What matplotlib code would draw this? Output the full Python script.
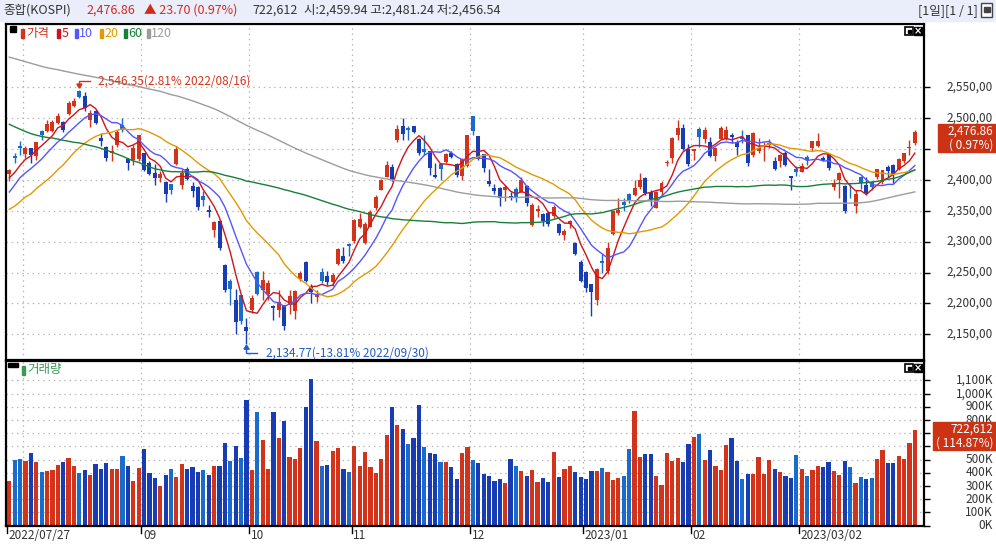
import numpy as np
import matplotlib
matplotlib.use("Agg")
import matplotlib.pyplot as plt
from matplotlib.patches import Rectangle, Polygon
import matplotlib.transforms as mtransforms

plt.rcParams['font.family'] = ['Noto Sans CJK KR', 'DejaVu Sans']

# ---------------- data ----------------
trade_days = {
    "2022/07": "27 28 29",
    "2022/08": "01 02 03 04 05 08 09 10 11 12 16 17 18 19 22 23 24 25 26 29 30 31",
    "2022/09": "01 02 05 06 07 08 13 14 15 16 19 20 21 22 23 26 27 28 29 30",
    "2022/10": "04 05 06 07 11 12 13 14 17 18 19 20 21 24 25 26 27 28 31",
    "2022/11": "01 02 03 04 07 08 09 10 11 14 15 16 17 18 21 22 23 24 25 28 29 30",
    "2022/12": "01 02 05 06 07 08 09 12 13 14 15 16 19 20 21 22 23 26 27 28 29",
    "2023/01": "02 03 04 05 06 09 10 11 12 13 16 17 18 19 20 25 26 27 30 31",
    "2023/02": "01 02 03 06 07 08 09 10 13 14 15 16 17 20 21 22 23 24 27 28",
    "2023/03": "02 03 06 07 08 09 10 13 14 15 16 17 20 21 22 23 24 27 28 29 30 31",
}
dates = [f"{m}/{d}" for m, ds in trade_days.items() for d in ds.split()]

opens = [
    2409, 2438, 2455, 2442, 2451, 2438, 2480, 2479, 2479, 2492,
    2494, 2507, 2519, 2544, 2536, 2497, 2512, 2468, 2454, 2444,
    2457, 2489, 2434, 2432, 2434, 2443, 2427, 2411, 2403, 2397,
    2393, 2426, 2391, 2417, 2390, 2389, 2374, 2351, 2319, 2333,
    2262, 2236, 2206, 2213, 2162, 2189, 2251, 2221, 2216, 2195,
    2190, 2197, 2198, 2188, 2240, 2267, 2227, 2210, 2251, 2244,
    2235, 2263, 2277, 2296, 2301, 2324, 2297, 2324, 2354, 2384,
    2405, 2421, 2465, 2487, 2484, 2487, 2467, 2450, 2446, 2408,
    2426, 2429, 2443, 2426, 2406, 2423, 2503, 2471, 2442, 2399,
    2387, 2387, 2383, 2374, 2385, 2381, 2390, 2327, 2349, 2345,
    2347, 2341, 2328, 2311, 2329, 2298, 2267, 2251, 2231, 2206,
    2268, 2253, 2313, 2347, 2365, 2377, 2376, 2388, 2403, 2381,
    2354, 2380, 2427, 2436, 2473, 2484, 2450, 2446, 2482, 2466,
    2462, 2439, 2467, 2467, 2473, 2462, 2470, 2473, 2440, 2446,
    2453, 2457, 2431, 2430, 2443, 2406, 2418, 2413, 2437, 2451,
    2455, 2436, 2442, 2389, 2400, 2390, 2381, 2357, 2405, 2392,
    2397, 2404, 2396, 2421, 2424, 2417, 2430, 2452, 2459.94,
]
highs = [
    2418, 2443, 2463, 2455, 2452, 2462, 2481, 2497, 2497, 2508,
    2495, 2527, 2532, 2546.35, 2542, 2514, 2513, 2476, 2455, 2457,
    2481, 2500, 2435, 2457, 2473, 2443, 2430, 2426, 2415, 2398,
    2393, 2455, 2418, 2421, 2396, 2390, 2382, 2360, 2334, 2335,
    2263, 2240, 2224, 2213, 2176, 2213, 2253, 2252, 2238, 2197,
    2221, 2198, 2221, 2221, 2252, 2268, 2232, 2222, 2257, 2252,
    2250, 2290, 2292, 2297, 2337, 2347, 2332, 2351, 2376, 2401,
    2431, 2426, 2489, 2500, 2488, 2488, 2468, 2473, 2447, 2427,
    2428, 2444, 2446, 2427, 2435, 2473, 2503, 2471, 2442, 2417,
    2394, 2389, 2391, 2381, 2388, 2404, 2392, 2362, 2359, 2347,
    2350, 2360, 2330, 2321, 2335, 2300, 2270, 2253, 2231, 2257,
    2280, 2300, 2351, 2370, 2371, 2378, 2400, 2411, 2405, 2384,
    2382, 2398, 2432, 2470, 2497, 2491, 2458, 2450, 2485, 2485,
    2469, 2453, 2487, 2487, 2476, 2465, 2481, 2473, 2477, 2468,
    2461, 2466, 2437, 2442, 2446, 2407, 2423, 2428, 2440, 2463,
    2476, 2439, 2444, 2401, 2412, 2392, 2393, 2383, 2406, 2405,
    2399, 2417, 2416, 2424, 2425, 2436, 2444, 2464, 2481.24,
]
lows = [
    2398, 2427, 2440, 2435, 2428, 2432, 2465, 2478, 2478, 2490,
    2478, 2505, 2518, 2532, 2511, 2486, 2491, 2455, 2431, 2430,
    2454, 2478, 2416, 2424, 2430, 2414, 2408, 2392, 2397, 2365,
    2377, 2424, 2386, 2400, 2372, 2352, 2357, 2340, 2308, 2287,
    2219, 2197, 2151, 2167, 2134.77, 2184, 2213, 2205, 2205, 2173,
    2178, 2157, 2183, 2175, 2236, 2234, 2200, 2203, 2233, 2230,
    2228, 2262, 2266, 2276, 2298, 2322, 2296, 2323, 2352, 2383,
    2404, 2399, 2462, 2465, 2465, 2476, 2440, 2440, 2408, 2403,
    2400, 2427, 2436, 2405, 2400, 2421, 2473, 2433, 2412, 2390,
    2377, 2357, 2366, 2367, 2365, 2380, 2358, 2325, 2340, 2325,
    2325, 2338, 2311, 2302, 2322, 2278, 2234, 2219, 2180, 2198,
    2250, 2248, 2311, 2343, 2350, 2363, 2374, 2386, 2376, 2357,
    2354, 2374, 2423, 2427, 2464, 2448, 2423, 2432, 2453, 2459,
    2437, 2431, 2466, 2465, 2459, 2441, 2459, 2422, 2437, 2444,
    2430, 2451, 2416, 2421, 2422, 2383, 2407, 2412, 2424, 2446,
    2454, 2430, 2416, 2384, 2370, 2347, 2370, 2346, 2386, 2376,
    2384, 2401, 2393, 2405, 2395, 2416, 2428, 2441, 2456.54,
]
closes = [
    2415.53, 2435.27, 2451.50, 2452.25, 2439.62, 2461.45, 2473.11, 2490.80, 2493.10, 2503.46,
    2480.88, 2523.78, 2527.94, 2533.52, 2516.47, 2508.05, 2492.69, 2462.50, 2435.34, 2447.45,
    2477.26, 2481.03, 2426.89, 2450.93, 2472.05, 2415.61, 2409.41, 2403.68, 2410.02, 2376.46,
    2384.28, 2449.54, 2411.42, 2401.83, 2382.78, 2355.66, 2367.85, 2347.21, 2332.31, 2290.00,
    2220.94, 2223.86, 2169.29, 2170.93, 2155.49, 2209.38, 2215.22, 2237.86, 2232.84, 2192.07,
    2202.47, 2162.87, 2212.55, 2219.71, 2249.95, 2237.00, 2218.09, 2213.12, 2236.16, 2235.07,
    2245.23, 2288.78, 2268.40, 2293.61, 2335.22, 2336.57, 2329.17, 2348.80, 2371.79, 2399.04,
    2424.41, 2402.26, 2483.16, 2474.65, 2480.33, 2477.45, 2442.90, 2444.48, 2419.50, 2405.27,
    2418.01, 2441.33, 2437.86, 2408.27, 2433.39, 2472.53, 2479.84, 2434.33, 2419.32, 2393.16,
    2382.81, 2371.08, 2389.04, 2371.87, 2372.40, 2399.25, 2361.82, 2360.03, 2352.17, 2333.33,
    2328.76, 2356.73, 2313.69, 2317.14, 2332.79, 2280.45, 2236.40, 2225.67, 2218.68, 2255.98,
    2264.65, 2289.97, 2350.19, 2351.31, 2359.88, 2365.10, 2386.09, 2399.86, 2379.39, 2368.32,
    2380.34, 2395.26, 2428.57, 2468.65, 2484.02, 2450.47, 2425.08, 2449.80, 2468.88, 2480.40,
    2438.19, 2451.71, 2483.64, 2481.52, 2469.07, 2452.70, 2465.64, 2427.90, 2475.48, 2451.21,
    2455.12, 2458.96, 2417.68, 2439.53, 2423.61, 2402.64, 2412.85, 2421.94, 2432.07, 2462.60,
    2463.35, 2431.91, 2419.09, 2394.59, 2410.60, 2348.97, 2379.72, 2377.91, 2395.69, 2379.39,
    2388.35, 2416.96, 2415.47, 2414.96, 2409.22, 2434.33, 2443.14, 2453.16, 2476.86,
]
volumes_k = [
    339, 498, 506, 490, 551, 483, 407, 415, 422, 460,
    483, 513, 453, 400, 422, 384, 468, 430, 475, 430,
    430, 528, 453, 339, 437, 582, 400, 362, 301, 384,
    430, 369, 468, 430, 445, 407, 422, 384, 453, 453,
    627, 490, 604, 513, 953, 422, 862, 650, 430, 862,
    665, 794, 521, 506, 589, 900, 1112, 642, 453, 460,
    566, 589, 430, 407, 604, 453, 559, 445, 400, 506,
    688, 900, 764, 733, 619, 665, 915, 597, 551, 544,
    483, 483, 445, 354, 551, 597, 498, 475, 392, 377,
    339, 354, 324, 506, 453, 415, 377, 422, 331, 362,
    331, 559, 369, 430, 453, 407, 369, 354, 415, 415,
    437, 407, 346, 362, 377, 582, 870, 521, 544, 544,
    377, 308, 551, 490, 513, 483, 619, 672, 695, 498,
    574, 453, 422, 612, 665, 490, 354, 392, 392, 521,
    392, 498, 430, 407, 377, 362, 536, 430, 377, 422,
    453, 445, 483, 415, 384, 490, 445, 324, 369, 354,
    362, 506, 574, 475, 475, 528, 506, 629.08, 722.612,
]
# closes of the 119 sessions before the first shown day (feed the moving averages)
prior_closes = [
    2707.82, 2750.26, 2745.06, 2746.47, 2768.85, 2771.93, 2747.71, 2704.48, 2676.54, 2729.68,
    2744.52, 2744.09, 2743.80, 2706.79, 2719.53, 2648.80, 2676.76, 2699.18,
    2703.52, 2747.08, 2713.43, 2651.31, 2622.40, 2680.32, 2661.28, 2645.65, 2621.53, 2620.44,
    2694.51, 2707.62, 2686.05, 2710.00, 2735.05, 2729.98, 2729.66, 2729.56, 2741.07, 2746.74, 2757.65,
    2739.85, 2757.90, 2759.20, 2735.03, 2695.86, 2700.39, 2693.10, 2666.76, 2716.49, 2716.71,
    2696.06, 2693.21, 2718.69, 2718.89, 2728.21, 2704.71, 2657.13, 2668.31, 2639.06, 2667.48, 2695.05,
    2687.45, 2680.46, 2677.57, 2644.51, 2610.81, 2596.56, 2592.27, 2550.08, 2604.24, 2596.58,
    2620.44, 2625.98, 2592.34, 2639.29, 2647.38, 2605.87, 2617.22, 2612.45, 2638.05, 2669.66, 2685.90,
    2658.99, 2670.65, 2626.15, 2626.34, 2625.44, 2595.87, 2504.51, 2492.97, 2447.38, 2451.41,
    2440.93, 2391.03, 2408.93, 2342.81, 2314.32, 2366.60, 2401.92, 2422.09, 2377.99, 2332.64,
    2305.42, 2300.34, 2341.78, 2292.01, 2334.27, 2350.61, 2340.27, 2317.76, 2328.61, 2322.32,
    2330.98, 2375.25, 2370.97, 2386.85, 2393.14, 2393.14, 2403.69, 2412.00,
]
ma_periods = [5, 10, 20, 60, 120]
ma_names = ["5", "10", "20", "60", "120"]
tick_dates = ["2022/07/27", "2022/09/01", "2022/10/04", "2022/11/01", "2022/12/01",
              "2023/01/02", "2023/02/01", "2023/03/02"]
tick_labels = ["2022/07/27", "09", "10", "11", "12", "2023/01", "02", "2023/03/02"]
price_ticks = [2150, 2200, 2250, 2300, 2350, 2400, 2450, 2500, 2550]
volume_ticks_k = [0, 100, 200, 300, 400, 500, 600, 700, 800, 900, 1000, 1100]

# ---------------- styles ----------------
RED = "#d4331b"
DBLUE = "#173cb4"
LBLUE = "#1a6ccc"
MA_COLORS = ["#d0141a", "#5555ff", "#e39a00", "#16803a", "#9c9c9c"]
GRID = "#b8b8b8"
TXT = "#333333"
BOX = "#cc3314"

W, H = 996, 545
fig = plt.figure(figsize=(W / 100, H / 100), dpi=100)
fig.patch.set_facecolor("white")


def fx(px):
    return px / W


def fy(py):
    return 1 - py / H


XMIN, XMAX = -0.612, 169.7
ax = fig.add_axes([fx(6), fy(360), fx(924) - fx(6), fy(24) - fy(360)])
axv = fig.add_axes([fx(6), fy(526), fx(924) - fx(6), fy(361) - fy(526)])

n = len(dates)
x = np.arange(n)
O = np.array(opens, float)
Hh = np.array(highs, float)
L = np.array(lows, float)
C = np.array(closes, float)
V = np.array(volumes_k, float)
prevC = np.concatenate([[prior_closes[-1]], C[:-1]])

colors = []
for o, c, pc in zip(O, C, prevC):
    if c >= o:
        colors.append(RED)
    elif c > pc:
        colors.append(LBLUE)
    else:
        colors.append(DBLUE)

# moving averages
allc = np.array(prior_closes + closes, float)
off = len(prior_closes)
mas = [np.array([allc[off + i - p + 1: off + i + 1].mean() for i in range(n)])
       for p in ma_periods]

month_starts = [i for i in range(1, n) if dates[i][:7] != dates[i - 1][:7]]

for a in (ax, axv):
    a.set_xlim(XMIN, XMAX)
    for s in a.spines.values():
        s.set_linewidth(1.6)
        s.set_color("black")
    for b in month_starts:
        a.axvline(b - 0.5, color=GRID, lw=0.9, ls=(0, (1.2, 3)), zorder=0)
    a.set_xticks([])

ax.set_ylim(2108.3, 2652.5)
axv.set_ylim(-2.3, 1247.7)

for p in price_ticks:
    ax.axhline(p, color=GRID, lw=0.9, ls=(0, (1.2, 3)), zorder=0)
for v in volume_ticks_k[1:]:
    axv.axhline(v, color=GRID, lw=0.9, ls=(0, (1.2, 3)), zorder=0)

# candles
body_lo = np.minimum(O, C)
body_h = np.maximum(np.abs(C - O), 1.3)
ax.vlines(x, L, Hh, colors=colors, lw=1.0, zorder=2)
ax.bar(x, body_h, width=0.74, bottom=body_lo, color=colors, linewidth=0, zorder=3)
for m, col in zip(mas, MA_COLORS):
    ax.plot(x, m, color=col, lw=1.0, zorder=4)

# volume bars
axv.bar(x, V, width=0.78, color=colors, linewidth=0, zorder=2)

# right axes
for a, ticks in ((ax, price_ticks), (axv, volume_ticks_k)):
    a.yaxis.set_ticks_position("right")
    a.set_yticks(ticks)
    a.tick_params(axis="y", direction="out", length=4, width=1.0, right=True, left=False,
                  labelright=False, labelleft=False, color="black")

last_c, prev_c = C[-1], C[-2]
pct_c = (last_c / prev_c - 1) * 100
last_v, prev_v = V[-1], V[-2]

# value boxes (pixel rows in the figure)
pbox = (124, 152)
vbox = (422, 450)

tp = mtransforms.blended_transform_factory(fig.transFigure, ax.transData)
for p in price_ticks:
    ypx = (1 - ax.transData.transform((0, p))[1] / H) * H
    ypx = H - ax.transData.transform((0, p))[1]
    if pbox[0] <= ypx <= pbox[1]:
        continue
    ax.text(fx(993), p, f"{p:,},00", transform=tp, ha="right", va="center",
            fontsize=8.5, color=TXT, clip_on=False)
tv = mtransforms.blended_transform_factory(fig.transFigure, axv.transData)
for v in volume_ticks_k:
    ypx = H - axv.transData.transform((0, v))[1]
    if vbox[0] + 3 <= ypx <= vbox[1]:
        continue
    axv.text(fx(993), v, f"{v:,}K", transform=tv, ha="right", va="center",
             fontsize=8.5, color=TXT, clip_on=False, zorder=1)

fig.patches.append(Rectangle((fx(938), fy(pbox[1])), fx(996) - fx(938), fy(pbox[0]) - fy(pbox[1]),
                             transform=fig.transFigure, color=BOX, zorder=5))
fig.text(fx(993), fy(131.5), f"{last_c:,.2f}", ha="right", va="center", fontsize=8.5,
         color="white", zorder=6)
fig.text(fx(993), fy(145.5), f"( {pct_c:.2f}%)", ha="right", va="center", fontsize=8.5,
         color="white", zorder=6)
fig.patches.append(Rectangle((fx(933), fy(vbox[1])), fx(996) - fx(933), fy(vbox[0]) - fy(vbox[1]),
                             transform=fig.transFigure, color=BOX, zorder=5))
fig.text(fx(993), fy(429.5), f"{last_v * 1000:,.0f}", ha="right", va="center", fontsize=8.5,
         color="white", zorder=6)
fig.text(fx(993), fy(443.5), f"( {last_v / prev_v * 100:.2f}%)", ha="right", va="center",
         fontsize=8.5, color="white", zorder=6)

# x tick labels below the volume panel
tx = mtransforms.blended_transform_factory(axv.transData, fig.transFigure)
for d, lab in zip(tick_dates, tick_labels):
    i = dates.index(d)
    xp = i - 0.5 if i > 0 else -0.42
    axv.plot([xp, xp], [fy(526.5), fy(533)], transform=tx, color="black", lw=1.0, clip_on=False)
    axv.text(xp + 0.3, fy(535.5), lab, transform=tx, ha="left", va="center", fontsize=8.5,
             color=TXT, clip_on=False)

# high / low markers
i_hi = int(np.argmax(Hh)); hi = Hh[i_hi]
i_lo = int(np.argmin(L)); lo = L[i_lo]
hcol, lcol = "#d4331b", "#1f5cc4"
hx, hy = ax.transData.transform((i_hi, hi))
lx, ly = ax.transData.transform((i_lo, lo))
th = mtransforms.Affine2D().translate(hx, hy)
tl = mtransforms.Affine2D().translate(lx, ly)
ln = plt.Line2D([0, 0, 11], [3, 8.5, 8.5], color=hcol, lw=1.0)
ln.set_transform(th)
fig.add_artist(ln)
fig.add_artist(Polygon([[-2.5, 5.5], [2.5, 5.5], [0, 1.5]], closed=True, color=hcol, transform=th))
ln2 = plt.Line2D([0, 0, 11], [-3, -9.5, -9.5], color=lcol, lw=1.0)
ln2.set_transform(tl)
fig.add_artist(ln2)
fig.add_artist(Polygon([[-2.5, -5.5], [2.5, -5.5], [0, -1.5]], closed=True, color=lcol, transform=tl))
fig.text((hx + 18.5) / W, (hy + 8.5) / H,
         f"{hi:,.2f}({(hi / last_c - 1) * 100:.2f}% {dates[i_hi]})",
         ha="left", va="center", fontsize=8.5, color=hcol)
fig.text((lx + 19.5) / W, (ly - 9.5) / H,
         f"{lo:,.2f}({(lo / last_c - 1) * 100:.2f}% {dates[i_lo]})",
         ha="left", va="center", fontsize=8.5, color=lcol)

# legends
fig.patches.append(Rectangle((fx(9.5), fy(32)), fx(6.5), fy(26) - fy(32),
                             transform=fig.transFigure, color="black"))
leg_items = [("가격", RED, 21)] + [(nm, col, xx) for nm, col, xx in
                                    zip(ma_names, MA_COLORS, [57, 75, 100, 124, 147])]
leg_text_x = [26.5, 62, 79, 104.5, 128.5, 151]
for (lab, col, bx), tx0 in zip(leg_items, leg_text_x):
    fig.patches.append(Rectangle((fx(bx), fy(37.5)), fx(2.6), fy(29) - fy(37.5),
                                 transform=fig.transFigure, color=col))
    fig.text(fx(tx0), fy(33.5), lab, ha="left", va="center", fontsize=9, color=col)

fig.patches.append(Rectangle((fx(8), fy(367)), fx(10), fy(363) - fy(367),
                             transform=fig.transFigure, color="black"))
fig.patches.append(Rectangle((fx(22), fy(374.5)), fx(2.6), fy(366) - fy(374.5),
                             transform=fig.transFigure, color="#3a9a55"))
fig.text(fx(27), fy(370), "거래량", ha="left", va="center", fontsize=9, color="#3a9a55")

# small panel icons
for ytop in (27, 364):
    fig.patches.append(Rectangle((fx(905), fy(ytop + 8)), fx(8), fy(ytop) - fy(ytop + 8),
                                 transform=fig.transFigure, facecolor="white",
                                 edgecolor="black", lw=1.2))
    fig.patches.append(Rectangle((fx(907.5), fy(ytop + 5.5)), fx(3), fy(ytop + 2.5) - fy(ytop + 5.5),
                                 transform=fig.transFigure, color="black"))
    fig.patches.append(Rectangle((fx(914), fy(ytop + 8)), fx(8), fy(ytop) - fy(ytop + 8),
                                 transform=fig.transFigure, color="black"))
    fig.text(fx(918), fy(ytop + 4), "×", ha="center", va="center", fontsize=7,
             color="white", family="DejaVu Sans", weight="bold")

# header bar
fig.patches.append(Rectangle((0, fy(21)), 1, fy(0) - fy(21), transform=fig.transFigure,
                             color="#e9eefa", zorder=0))
hdr_y = fy(10.5)
fig.text(fx(3), hdr_y, "종합(KOSPI)", ha="left", va="center", fontsize=9, color=TXT)
fig.text(fx(86), hdr_y, f"{last_c:,.2f}", ha="left", va="center", fontsize=9, color="#d42a1e")
fig.text(fx(144), hdr_y, f"▲ {last_c - prev_c:.2f} ({pct_c:.2f}%)", ha="left", va="center",
         fontsize=9, color="#d42a1e")
fig.text(fx(252), hdr_y, f"{last_v * 1000:,.0f}", ha="left", va="center", fontsize=9, color=TXT)
fig.text(fx(304), hdr_y, f"시:{opens[-1]:,.2f} 고:{highs[-1]:,.2f} 저:{lows[-1]:,.2f}",
         ha="left", va="center", fontsize=9, color=TXT)
fig.text(fx(978), hdr_y, "[1일][1 / 1]", ha="right", va="center", fontsize=9, color=TXT)
fig.patches.append(Rectangle((fx(981), fy(17)), fx(11), fy(3) - fy(17),
                             transform=fig.transFigure, facecolor="white", edgecolor="#444444", lw=1))
fig.patches.append(Rectangle((fx(983.5), fy(12)), fx(6), fy(7) - fy(12),
                             transform=fig.transFigure, color="#444444"))

fig.savefig("out.png", dpi=100)
